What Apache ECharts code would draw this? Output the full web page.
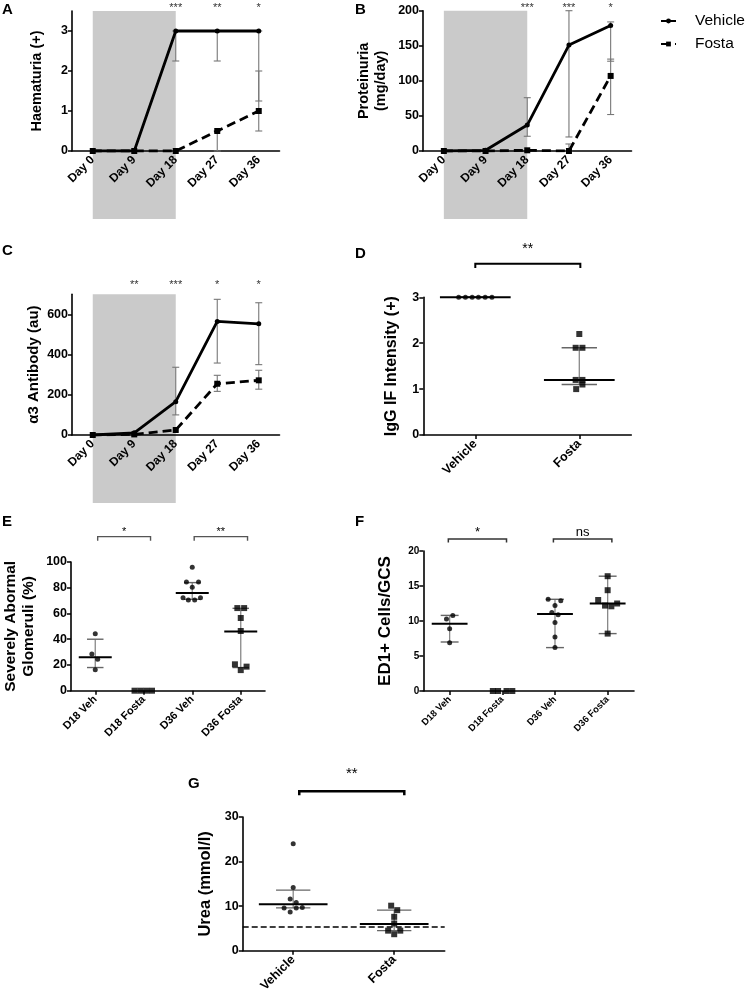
<!DOCTYPE html>
<html><head><meta charset="utf-8">
<script src="https://cdn.jsdelivr.net/npm/echarts@6/dist/echarts.min.js"></script>
<style>html,body{margin:0;padding:0;background:#fff}#c{width:748px;height:997px}</style>
</head><body><div id="c"></div><script>
// ---------- DATA ----------
const days = ['Day 0','Day 9','Day 18','Day 27','Day 36'];
// Panel A: Haematuria
const aVehicle = [0, 0, 3, 3, 3];
const aFosta   = [0, 0, 0, 0.5, 1];
const aVehErr  = [[2, 2.25, 3], [3, 2.25, 3], [4, 1.25, 3]];
const aFosErr  = [[3, 0, 0.5], [4, 0.5, 2.0]];
const aStars   = [[2, '***'], [3, '**'], [4, '*']];
// Panel B: Proteinuria
const bVehicle = [0, 1, 37, 151, 179];
const bFosta   = [0, 0, 1, 0, 107];
const bVehErr  = [[2, 21, 76], [3, 20, 200], [4, 128, 184]];
const bFosErr  = [[3, 0, 10], [4, 52, 131]];
const bStars   = [[2, '***'], [3, '***'], [4, '*']];
// Panel C: alpha3 antibody
const cVehicle = [0, 11, 166, 565, 553];
const cFosta   = [0, 3, 25, 255, 272];
const cVehErr  = [[2, 100, 337], [3, 358, 675], [4, 350, 658]];
const cFosErr  = [[3, 217, 297], [4, 228, 322]];
const cStars   = [[1, '**'], [2, '***'], [3, '*'], [4, '*']];
// Panel D: IgG IF intensity
const dGroups  = ['Vehicle', 'Fosta'];
const dVehicle = [[-0.16, 3], [-0.095, 3], [-0.03, 3], [0.03, 3], [0.095, 3], [0.16, 3]];
const dFosta   = [[1.0, 2.2], [0.965, 1.9], [1.03, 1.9], [0.965, 1.2], [1.03, 1.2], [1.03, 1.1], [0.97, 1.0]];
const dSummary = [[0, 3, 3, 3], [1, 1.2, 1.1, 1.9]];
const dBrackets = [[0, 1.01, '**']];
// Panel E: severely abnormal glomeruli
const eGroups  = ['D18 Veh', 'D18 Fosta', 'D36 Veh', 'D36 Fosta'];
const eVeh = [[0, 44.3], [-0.07, 28.5], [0.05, 24.4], [0, 16.3],
              [2, 96], [1.88, 84.5], [2.13, 84.5], [2, 80.3], [1.81, 72.3], [1.92, 70.5], [2.05, 70.5], [2.17, 72.3]];
const eFos = [[0.81, 0], [0.93, 0], [1.05, 0], [1.17, 0],
              [2.93, 64.2], [3.07, 64.2], [3, 56.5], [3, 46.4], [2.88, 20.5], [3.12, 18.7], [3, 16]];
const eSummary = [[0, 26, 18, 40], [2, 76, 71, 84], [3, 46, 18, 64]];
const eBrackets = [[0.05, 1.14, '*'], [2.04, 3.14, '**']];
// Panel F: ED1+ cells
const fGroups  = ['D18 Veh', 'D18 Fosta', 'D36 Veh', 'D36 Fosta'];
const fVeh = [[-0.06, 10.3], [0.06, 10.8], [0, 8.9], [0, 6.9],
              [1.87, 13.1], [2.11, 12.9], [2, 12.2], [1.94, 11.2], [2.06, 10.9], [2, 9.8], [2, 7.7], [2, 6.2]];
const fFos = [[0.82, 0], [0.92, 0], [1.08, 0], [1.19, 0],
              [3, 16.4], [3, 14.4], [2.82, 13.0], [2.95, 12.2], [3.07, 12.1], [3.18, 12.5], [3, 8.2]];
const fSummary = [[0, 9.6, 7.0, 10.8], [2, 11.0, 6.2, 13.1], [3, 12.5, 8.2, 16.4]];
const fBrackets = [[-0.025, 1.08, '*'], [1.97, 3.08, 'ns']];
// Panel G: urea
const gGroups  = ['Vehicle', 'Fosta'];
const gVeh = [[0, 24.0], [0, 14.2], [-0.03, 11.6], [0.03, 10.8], [-0.09, 9.6], [-0.03, 8.7], [0.03, 9.6], [0.09, 9.7]];
const gFos = [[0.97, 10.1], [1.03, 9.1], [1, 7.6], [1, 6.1], [0.94, 4.5], [1.06, 4.5], [1, 3.7]];
const gSummary = [[0, 10.4, 9.6, 13.6], [1, 6.0, 4.5, 9.1]];
const gRefLine = 5.4;
const gBrackets = [[0.06, 1.1, '**']];

// ---------- HELPERS ----------
const FF = 'Liberation Sans, Arial, sans-serif';
const grids = [
  {left: 72,    top: 11,    width: 207.5, height: 140},
  {left: 423,   top: 10.7,  width: 208.5, height: 140.3},
  {left: 72,    top: 294.3, width: 207.5, height: 140.7},
  {left: 423.3, top: 297.3, width: 208,   height: 137.7},
  {left: 71,    top: 562,   width: 194,   height: 128.7},
  {left: 423.3, top: 551,   width: 210.7, height: 140},
  {left: 242.7, top: 817,   width: 202,   height: 133.7}
];
const axLine = {show: true, onZero: false, lineStyle: {color: '#000', width: 1.6}};
function catX(gi) {
  return {type: 'category', gridIndex: gi, data: days, boundaryGap: true,
    axisLine: axLine, axisTick: {alignWithLabel: true, length: 4, lineStyle: {color: '#000', width: 1.5}},
    axisLabel: {rotate: 45, interval: 0, fontSize: 12, fontWeight: 'bold', color: '#000', fontFamily: FF, margin: 7},
    splitLine: {show: false}};
}
function valX(gi, names, fs) {
  const vals = names.map((n, i) => i);
  return {type: 'value', gridIndex: gi, min: -0.5, max: names.length - 0.5,
    axisLine: axLine,
    axisTick: {show: true, length: 4, lineStyle: {color: '#000', width: 1.5}, customValues: vals},
    axisLabel: {rotate: 45, fontSize: fs, fontWeight: 'bold', color: '#000', fontFamily: FF, margin: 7,
      customValues: vals, formatter: v => names[Math.round(v)]},
    splitLine: {show: false}};
}
function valY(gi, max, interval, name, nameGap, nfs, fs, custom, lh) {
  const o = {type: 'value', gridIndex: gi, min: 0, max: max, interval: interval,
    axisLine: axLine,
    axisTick: {show: true, length: 4, lineStyle: {color: '#000', width: 1.5}},
    axisLabel: {fontSize: fs, fontWeight: 'bold', color: '#000', fontFamily: FF, margin: 4},
    splitLine: {show: false},
    name: name, nameLocation: 'middle', nameGap: nameGap,
    nameTextStyle: {fontSize: nfs, fontWeight: 'bold', color: '#000', fontFamily: FF, lineHeight: lh || nfs * 1.2}};
  if (custom) { o.axisLabel.customValues = custom; o.axisTick.customValues = custom; }
  return o;
}
function lineS(name, data, gi, dashed) {
  return {type: 'line', name: name, xAxisIndex: gi, yAxisIndex: gi, data: data, z: 3,
    symbol: dashed ? 'rect' : 'circle', symbolSize: dashed ? 6 : 5,
    itemStyle: {color: '#000'},
    lineStyle: {color: '#000', width: 2.8, type: dashed ? [9, 5] : 'solid'},
    animation: false};
}
function errS(gi, data) {
  return {type: 'custom', xAxisIndex: gi, yAxisIndex: gi, data: data, z: 2, clip: false, silent: true,
    renderItem: (p, api) => {
      const x = api.value(0), a = api.coord([x, api.value(1)]), b = api.coord([x, api.value(2)]);
      const st = {stroke: '#777', lineWidth: 1.1};
      const w = 3.5;
      return {type: 'group', children: [
        {type: 'line', shape: {x1: a[0], y1: a[1], x2: b[0], y2: b[1]}, style: st},
        {type: 'line', shape: {x1: a[0] - w, y1: a[1], x2: a[0] + w, y2: a[1]}, style: st},
        {type: 'line', shape: {x1: b[0] - w, y1: b[1], x2: b[0] + w, y2: b[1]}, style: st}]};
    }};
}
function shadeS(gi, from, to, top) {
  return {type: 'custom', xAxisIndex: gi, yAxisIndex: gi, data: [[from, to, top]], z: -1, clip: false, silent: true,
    renderItem: (p, api) => {
      const p0 = api.coord([api.value(0), api.value(2)]);
      const p1 = api.coord([api.value(1), 0]);
      return {type: 'rect', shape: {x: p0[0], y: p0[1], width: p1[0] - p0[0], height: p1[1] - p0[1] + 68},
        style: {fill: '#cacaca'}};
    }};
}
function starS(gi, data, yv, fs, color) {
  return {type: 'custom', xAxisIndex: gi, yAxisIndex: gi, data: data.map(d => [d[0], yv, d[1]]), z: 4, clip: false, silent: true,
    renderItem: (p, api) => {
      const c = api.coord([api.value(0), api.value(1)]);
      return {type: 'text', x: c[0], y: c[1],
        style: {text: data[p.dataIndex][1], fontSize: fs, fontFamily: FF, fill: color, align: 'center', verticalAlign: 'middle'}};
    }};
}
function dotS(gi, data, square, size) {
  return {type: 'scatter', xAxisIndex: gi, yAxisIndex: gi, data: data, z: 4, clip: false,
    symbol: square ? 'rect' : 'circle', symbolSize: size || (square ? 6 : 5), itemStyle: {color: '#000'}, animation: false};
}
function sumS(gi, data, capColor) {
  return {type: 'custom', xAxisIndex: gi, yAxisIndex: gi, data: data, z: 3, clip: false, silent: true,
    renderItem: (p, api) => {
      const i = api.value(0), m = api.value(1), lo = api.value(2), hi = api.value(3);
      const ml = api.coord([i - 0.34, m]), mr = api.coord([i + 0.34, m]);
      const l = api.coord([i, lo]), h = api.coord([i, hi]);
      const cw = api.coord([i + 0.17, m])[0] - api.coord([i, m])[0];
      const st = {stroke: capColor || '#666', lineWidth: 1.4};
      return {type: 'group', children: [
        {type: 'line', shape: {x1: l[0], y1: l[1], x2: h[0], y2: h[1]}, style: {stroke: '#888', lineWidth: 1.3}},
        {type: 'line', shape: {x1: l[0] - cw, y1: l[1], x2: l[0] + cw, y2: l[1]}, style: st},
        {type: 'line', shape: {x1: h[0] - cw, y1: h[1], x2: h[0] + cw, y2: h[1]}, style: st},
        {type: 'line', shape: {x1: ml[0], y1: ml[1], x2: mr[0], y2: mr[1]}, style: {stroke: '#000', lineWidth: 2}}]};
    }};
}
function brS(gi, data, yTop, yEnd, yText, color, lw, fs) {
  return {type: 'custom', xAxisIndex: gi, yAxisIndex: gi, data: data.map(d => [d[0], d[1], yTop]), z: 4, clip: false, silent: true,
    renderItem: (p, api) => {
      const x0 = api.value(0), x1 = api.value(1);
      const a = api.coord([x0, yEnd]), b = api.coord([x0, yTop]), c = api.coord([x1, yTop]), d = api.coord([x1, yEnd]);
      const t = api.coord([(x0 + x1) / 2, yText]);
      return {type: 'group', children: [
        {type: 'polyline', shape: {points: [a, b, c, d]}, style: {stroke: color, lineWidth: lw, fill: null}},
        {type: 'text', x: t[0], y: t[1], style: {text: data[p.dataIndex][2], fontSize: fs, fontFamily: FF, fill: '#000', align: 'center', verticalAlign: 'middle'}}]};
    }};
}
function letter(t, x, y) {
  return {type: 'text', left: x, top: y, style: {text: t, fontSize: 15, fontWeight: 'bold', fontFamily: FF, fill: '#000'}};
}

// ---------- OPTION ----------
const option = {
  animation: false,
  backgroundColor: '#fff',
  grid: grids,
  legend: {data: ['Vehicle', 'Fosta'], orient: 'vertical', left: 660, top: 12, itemWidth: 15, itemHeight: 6, itemGap: 5,
    padding: 0, selectedMode: false,
    textStyle: {fontSize: 15.5, lineHeight: 18, color: '#000', fontFamily: FF, padding: [0, 0, 0, 14]}},
  xAxis: [catX(0), catX(1), catX(2), valX(3, dGroups, 12.5), valX(4, eGroups, 11), valX(5, fGroups, 9.5), valX(6, gGroups, 12.5)],
  yAxis: [
    valY(0, 3.5, 1, 'Haematuria (+)', 26, 14.5, 12.5, [0, 1, 2, 3]),
    valY(1, 200, 50, 'Proteinuria\n(mg/day)', 34, 14.5, 12.5, null, 17),
    valY(2, 700, 200, 'α3 Antibody (au)', 26, 15, 12.5, [0, 200, 400, 600]),
    valY(3, 3, 1, 'IgG IF Intensity (+)', 22, 16, 12.5),
    valY(4, 100, 20, 'Severely Abormal\nGlomeruli (%)', 33, 15.5, 12.5, null, 18),
    valY(5, 20, 5, 'ED1+ Cells/GCS', 28, 17, 10),
    valY(6, 30, 10, 'Urea (mmol/l)', 27, 16.5, 12.5)
  ],
  graphic: [letter('A', 2, 2), letter('B', 355, 2), letter('C', 2, 243), letter('D', 355, 246),
            letter('E', 2, 514), letter('F', 355, 514), letter('G', 188, 776)],
  series: [
    // A
    shadeS(0, 0, 2, 3.5), errS(0, aVehErr), errS(0, aFosErr),
    lineS('Vehicle', aVehicle, 0, false), lineS('Fosta', aFosta, 0, true), starS(0, aStars, 3.58, 11, '#333'),
    // B
    shadeS(1, 0, 2, 200), errS(1, bVehErr), errS(1, bFosErr),
    lineS('Vehicle', bVehicle, 1, false), lineS('Fosta', bFosta, 1, true), starS(1, bStars, 203.5, 11, '#333'),
    // C
    shadeS(2, 0, 2, 700), errS(2, cVehErr), errS(2, cFosErr),
    lineS('Vehicle', cVehicle, 2, false), lineS('Fosta', cFosta, 2, true), starS(2, cStars, 748, 11, '#333'),
    // D
    sumS(3, dSummary), dotS(3, dVehicle, false, 5), dotS(3, dFosta, true, 6),
    brS(3, dBrackets, 3.73, 3.64, 4.05, '#000', 2, 14),
    // E
    sumS(4, eSummary), dotS(4, eVeh, false, 5), dotS(4, eFos, true, 6),
    brS(4, eBrackets, 119.7, 116.5, 123.5, '#555', 1.4, 11),
    // F
    sumS(5, fSummary), dotS(5, fVeh, false, 5), dotS(5, fFos, true, 6),
    brS(5, fBrackets, 21.7, 21.2, 22.6, '#333', 1.5, 13),
    // G
    Object.assign(sumS(6, gSummary), {markLine: {silent: true, symbol: 'none', label: {show: false},
      lineStyle: {color: '#000', type: [6, 3], width: 1.5}, data: [{yAxis: gRefLine}]}}),
    dotS(6, gVeh, false, 5), dotS(6, gFos, true, 6),
    brS(6, gBrackets, 35.8, 34.9, 39.6, '#000', 2.5, 15)
  ]
};
const chart = echarts.init(document.getElementById('c'), null, {renderer: 'canvas'});
chart.setOption(option);
</script></body></html>
